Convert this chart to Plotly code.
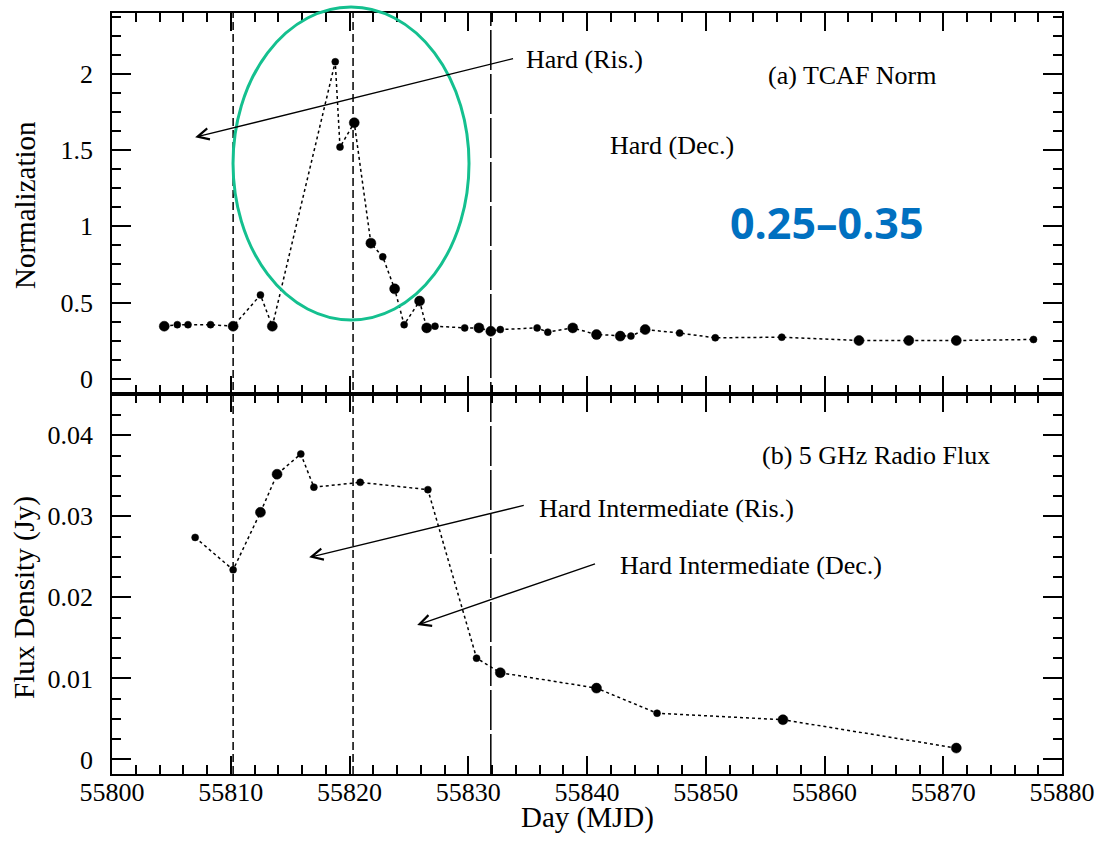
import plotly.graph_objects as go
from plotly.subplots import make_subplots

# ---- Panel (a): TCAF normalization vs. day ----
norm_day = [55804.4, 55805.5, 55806.4, 55808.3, 55810.2, 55812.5, 55813.5,
            55818.8, 55819.2, 55820.4, 55821.8, 55822.8, 55823.8, 55824.6,
            55825.9, 55826.5, 55827.2, 55829.7, 55830.9, 55831.9, 55832.7,
            55835.8, 55836.7, 55838.8, 55840.8, 55842.8, 55843.7, 55844.9,
            55847.8, 55850.8, 55856.4, 55862.9, 55867.1, 55871.1, 55877.6]
norm_val = [0.345, 0.355, 0.355, 0.355, 0.345, 0.55, 0.345,
            2.08, 1.52, 1.68, 0.89, 0.80, 0.59, 0.355,
            0.51, 0.334, 0.345, 0.334, 0.334, 0.312, 0.323,
            0.334, 0.306, 0.334, 0.29, 0.28, 0.28, 0.323,
            0.30, 0.269, 0.273, 0.251, 0.251, 0.251, 0.258]

# ---- Panel (b): 5 GHz radio flux density vs. day ----
radio_day = [55807.0, 55810.2, 55812.5, 55813.9, 55815.9, 55817.0, 55820.9,
             55826.6, 55830.7, 55832.7, 55840.8, 55845.9, 55856.5, 55871.1]
radio_flux = [0.0274, 0.0234, 0.0305, 0.0352, 0.0377, 0.0336, 0.0342,
              0.0333, 0.0125, 0.0107, 0.0088, 0.0057, 0.0049, 0.0014]

# Spectral-state transition days
state_days = [55810.2, 55820.3, 55831.9]

# ---- styling ----
SERIF = "Liberation Serif, Times New Roman, serif"
BIG, SMALL = 10, 7
norm_big = [1, 0, 0, 0, 1, 0, 1, 0, 0, 1, 1, 0, 1, 0, 1, 1, 0, 0, 1, 1,
            0, 0, 0, 1, 1, 1, 0, 1, 0, 0, 0, 1, 1, 1, 0]
radio_big = [0, 0, 1, 1, 0, 0, 0, 0, 0, 1, 1, 0, 1, 1]
state_dash = ["8px,4px", "8px,4px", "40px,4px"]

fig = make_subplots(rows=2, cols=1, shared_xaxes=True, vertical_spacing=0)


def series(x, y, big, row):
    fig.add_trace(go.Scatter(
        x=x, y=y, mode="lines+markers",
        line=dict(color="black", width=1.5, dash="dot"),
        marker=dict(color="black", symbol="circle", opacity=1,
                    line=dict(color="black", width=0.5),
                    size=[BIG if b else SMALL for b in big]),
        showlegend=False), row=row, col=1)


series(norm_day, norm_val, norm_big, 1)
series(radio_day, radio_flux, radio_big, 2)


def tickfont():
    return dict(family=SERIF, size=26, color="black")


def minor(step):
    return dict(dtick=step, ticklen=9, ticks="inside", tickcolor="black",
                tickwidth=1.5, showgrid=False)


common = dict(showline=True, linecolor="black", linewidth=1.6, mirror="ticks",
              ticks="inside", tickcolor="black", tickwidth=1.5,
              showgrid=False, zeroline=False, automargin=False)

fig.update_layout(
    width=1099, height=841,
    paper_bgcolor="white", plot_bgcolor="white",
    font=dict(family=SERIF, color="black"),
    margin=dict(l=112, r=37, t=13, b=67),
    xaxis=dict(common, range=[55800, 55880], tick0=55800, dtick=10, ticklen=18,
               minor=minor(2), showticklabels=False),
    xaxis2=dict(common, range=[55800, 55880], tick0=55800, dtick=10, ticklen=18,
                tickformat="d", minor=minor(2), tickfont=tickfont(),
                ticklabelstandoff=-6),
    yaxis=dict(common, domain=[0.4993, 1], range=[-0.1, 2.4], tick0=0, dtick=0.5,
               ticklen=19, ticklabelstandoff=12, tickfont=tickfont(),
               minor=minor(0.125)),
    yaxis2=dict(common, domain=[0, 0.4993], range=[-0.0018, 0.0451], tick0=0,
                dtick=0.01, ticklen=19, ticklabelstandoff=12, tickfont=tickfont(),
                minor=minor(0.0025)),
)

# State boundaries spanning both panels
for d, dash in zip(state_days, state_dash):
    fig.add_shape(type="line", xref="x", yref="paper", x0=d, x1=d, y0=0, y1=1,
                  line=dict(color="black", width=1.5, dash=dash))

# Highlight ellipse around the rising hard-state peak
fig.add_shape(type="circle", xref="paper", yref="paper",
              x0=0.1274, x1=0.3758, y0=0.5966, y1=1.0079,
              line=dict(color="#14C08F", width=3))

label_font = dict(family=SERIF, size=26, color="black")
title_font = dict(family=SERIF, size=29, color="black")


def arrow(head, tail, xref, yref):
    fig.add_annotation(x=head[0], y=head[1], ax=tail[0], ay=tail[1],
                       xref=xref, yref=yref, axref=xref, ayref=yref,
                       text="", showarrow=True, arrowhead=5, arrowsize=1.6,
                       arrowwidth=1.4, arrowcolor="black")


def label(x, y, text, xref, yref, font=label_font):
    fig.add_annotation(x=x, y=y, xref=xref, yref=yref, text=text,
                       showarrow=False, xanchor="left", yanchor="middle",
                       font=font)


# Panel (a) labels
label(55834.7, 2.096, "Hard (Ris.)", "x", "y")
arrow((55807.0, 1.585), (55833.9, 2.103), "x", "y")
label(55855.1, 1.992, "(a) TCAF Norm", "x", "y")
label(55841.8, 1.533, "Hard (Dec.)", "x", "y")
label(55851.9, 1.028, "<b>0.25–0.35</b>", "x", "y",
      font=dict(family="Open Sans", size=43, color="#0070C0"))

# Panel (b) labels
label(55854.6, 0.03757, "(b) 5 GHz Radio Flux", "x2", "y2")
label(55835.8, 0.03103, "Hard Intermediate (Ris.)", "x2", "y2")
arrow((55816.6, 0.02494), (55834.8, 0.0314), "x2", "y2")
label(55842.6, 0.02399, "Hard Intermediate (Dec.)", "x2", "y2")
arrow((55825.7, 0.01659), (55840.8, 0.0242), "x2", "y2")

# Axis titles
fig.add_annotation(x=-0.0916, y=0.7477, xref="paper", yref="paper",
                   text="Normalization", textangle=-90, showarrow=False,
                   xanchor="center", yanchor="middle", font=title_font)
fig.add_annotation(x=-0.0916, y=0.2326, xref="paper", yref="paper",
                   text="Flux Density (Jy)", textangle=-90, showarrow=False,
                   xanchor="center", yanchor="middle", font=title_font)
fig.add_annotation(x=0.5, y=-0.0570, xref="paper", yref="paper",
                   text="Day (MJD)", showarrow=False,
                   xanchor="center", yanchor="middle", font=title_font)

fig.write_html("out.html")
